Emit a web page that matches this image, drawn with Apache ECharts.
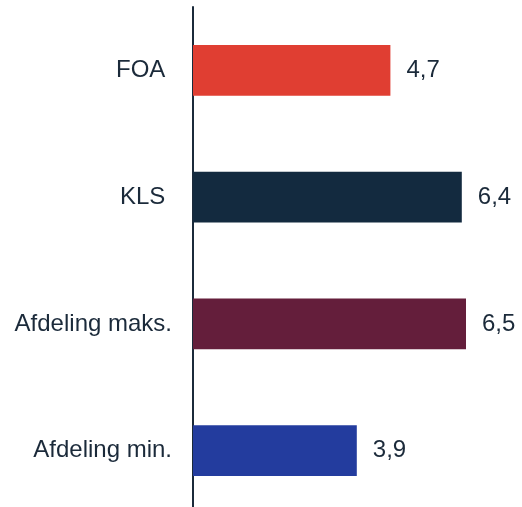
<!DOCTYPE html>
<html>
<head>
<meta charset="utf-8">
<script src="https://cdn.jsdelivr.net/npm/echarts@6/dist/echarts.min.js"></script>
<style>html,body{margin:0;padding:0;background:#fff;}#c{width:522px;height:507px;}</style>
</head>
<body>
<div id="c"></div>
<script>
const categories = ["FOA ", "KLS ", "Afdeling maks.", "Afdeling min."];
const values = [4.7, 6.4, 6.5, 3.9];
const colors = ["#E03E32", "#132A3F", "#641E3B", "#233C9E"];

const chart = echarts.init(document.getElementById('c'), null, {renderer: 'canvas'});
chart.setOption({
  animation: false,
  grid: {left: 193, width: 315, top: 7, height: 507, containLabel: false, outerBoundsMode: 'none'},
  xAxis: {type: 'value', min: 0, max: 7.5, show: false},
  yAxis: {
    type: 'category', data: categories, inverse: true,
    axisLine: {show: true, lineStyle: {color: '#1B2A3A', width: 2}},
    axisTick: {show: false},
    axisLabel: {fontFamily: 'Liberation Sans, Arial, sans-serif', fontSize: 24, color: '#1B2A3A', margin: 21}
  },
  series: [{
    type: 'bar',
    data: values.map((v, i) => ({value: v, itemStyle: {color: colors[i]}})),
    barWidth: '40%',
    label: {
      show: true, position: 'right', distance: 16,
      fontFamily: 'Liberation Sans, Arial, sans-serif', fontSize: 24, color: '#1B2A3A',
      formatter: p => String(p.value).replace('.', ',')
    }
  }]
});
</script>
</body>
</html>
